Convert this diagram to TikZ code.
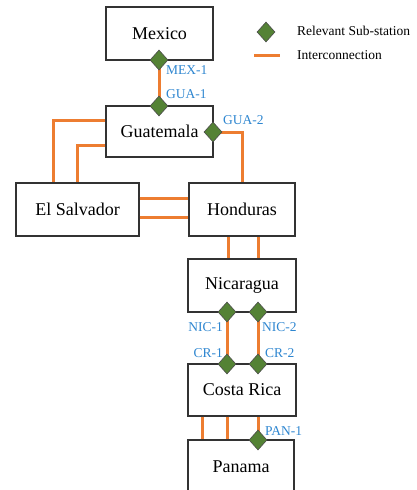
\documentclass[tikz,border=0pt]{standalone}
\usepackage{fontspec}
\setmainfont{Liberation Serif}
\usepackage{xcolor}
\usetikzlibrary{positioning}
\usetikzlibrary{shapes.geometric}
\definecolor{linkorange}{RGB}{237,125,49}
\definecolor{subgreen}{RGB}{84,130,53}
\definecolor{subblue}{RGB}{46,134,208}

\begin{document}
\begin{tikzpicture}[x=1pt,y=-1pt,
		country/.style={draw=black!80, line width=1.2pt, fill=white, inner sep=0pt,
			font=\fontsize{18}{20}\selectfont},
		link/.style={draw=linkorange, line width=3pt},
		substation/.style={diamond, draw=black!70, line width=0.6pt, fill=subgreen,
			inner sep=0pt, minimum width=18pt, minimum height=20pt},
		station/.style={text=subblue, inner sep=0pt, font=\fontsize{13.5}{15}\selectfont},
		legendtext/.style={inner sep=0pt, anchor=west, font=\fontsize{13.5}{15}\selectfont}]
	\useasboundingbox (0,0) rectangle (417,490);
	% countries
	\node[country, minimum width=107pt, minimum height=53pt] (mex) at (159.5,33.5) {Mexico};
	\node[country, minimum width=107pt, minimum height=51pt] (gua) at (159.5,131.5) {Guatemala};
	\node[country, minimum width=123pt, minimum height=53pt] (els) at (77.5,209.5) {El Salvador};
	\node[country, minimum width=106pt, minimum height=53pt] (hon) at (242,209.5) {Honduras};
	\node[country, minimum width=108pt, minimum height=53pt] (nic) at (242,285.5) {Nicaragua};
	\node[country, minimum width=108pt, minimum height=52pt] (cr) at (242,390) {Costa Rica};
	\node[country, minimum width=106pt, minimum height=53pt] (pan) at (241,466.5) {Panama};
	% sub-station points
	\coordinate (mex1) at (159,60);
	\coordinate (gua1) at (159,106);
	\coordinate (gua2) at (213,132);
	\coordinate (nic1) at (227,312);
	\coordinate (nic2) at (258,312);
	\coordinate (cr1) at (227,364);
	\coordinate (cr2) at (258,364);
	\coordinate (pan1) at (258,440);
	% interconnections
	\draw[link] (mex1) -- (gua1);
	\draw[link] (gua2) -| (hon.north);
	\draw[link] ([yshift=11.5]gua.west) -| ([xshift=-24.5]els.north);
	\draw[link] ([yshift=-13.5]gua.west) -| (els.north);
	\draw[link] ([yshift=11.5]els.east) -- ([yshift=11.5]hon.west);
	\draw[link] ([yshift=-7.5]els.east) -- ([yshift=-7.5]hon.west);
	\draw[link] ([xshift=-14]hon.south) -- ([xshift=-14]nic.north);
	\draw[link] ([xshift=16]hon.south) -- ([xshift=16]nic.north);
	\draw[link] (nic1) -- (cr1);
	\draw[link] (nic2) -- (cr2);
	\draw[link] ([xshift=-40]cr.south) -- ([xshift=-39]pan.north);
	\draw[link] ([xshift=-15]cr.south) -- ([xshift=-14]pan.north);
	\draw[link] ([xshift=16]cr.south) -- (pan1);
	% sub-stations
	\foreach \s in {mex1,gua1,gua2,nic1,nic2,cr1,cr2,pan1}
		\node[substation] at (\s) {};
	\node[station, anchor=west] (mexlbl) at ([xshift=7pt,yshift=-10pt]mex1) {MEX-1};
	\node[station, anchor=west] (gua1lbl) at ([xshift=7pt,yshift=12pt]gua1) {GUA-1};
	\node[station, anchor=west] (gua2lbl) at ([xshift=10pt,yshift=12pt]gua2) {GUA-2};
	\node[station, anchor=east] (nic1lbl) at ([xshift=-4pt,yshift=-15pt]nic1) {NIC-1};
	\node[station, anchor=west] (nic2lbl) at ([xshift=4pt,yshift=-15pt]nic2) {NIC-2};
	\node[station, anchor=east] (cr1lbl) at ([xshift=-4pt,yshift=11pt]cr1) {CR-1};
	\node[station, anchor=west] (cr2lbl) at ([xshift=7pt,yshift=11pt]cr2) {CR-2};
	\node[station, anchor=west] (panlbl) at ([xshift=7pt,yshift=9pt]pan1) {PAN-1};
	% legend
	\node[substation] (legsub) at (266,32) {};
	\node[legendtext] (legsubtxt) at (297,31) {Relevant Sub-station};
	\coordinate (legA) at (254,55);
	\coordinate (legB) at (280,55);
	\draw[link] (legA) -- (legB);
	\node[legendtext] (leglinktxt) at (297,55) {Interconnection};
\end{tikzpicture}
\end{document}
